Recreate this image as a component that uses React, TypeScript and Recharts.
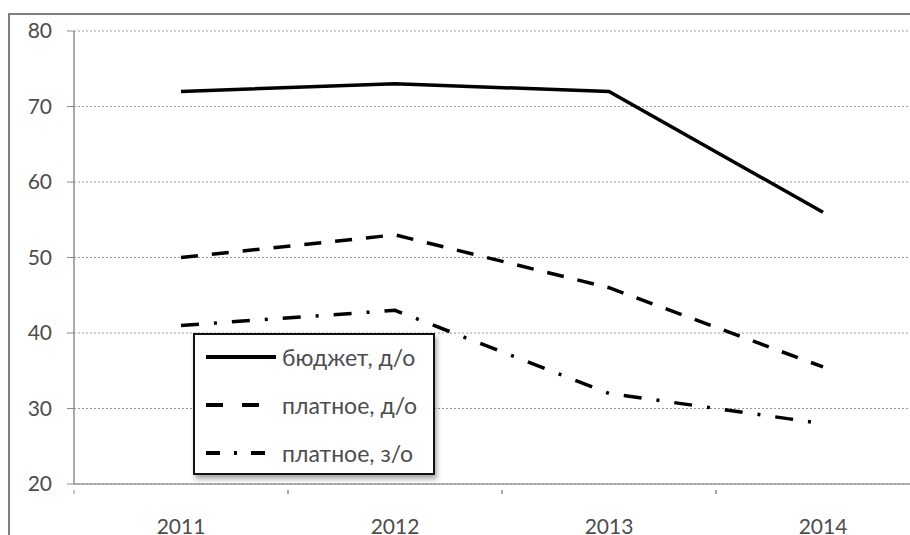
import { LineChart, Line, XAxis, YAxis, CartesianGrid, Legend } from 'recharts';

const years = ['2011', '2012', '2013', '2014'];
const budgetFullTime = [72, 73, 72, 56];
const paidFullTime = [50, 53, 46, 35.5];
const paidExtramural = [41, 43, 32, 28];
const yTicks = [20, 30, 40, 50, 60, 70, 80];

const seriesKeys = ['budget', 'paid', 'extramural'];
const seriesNames = ['бюджет, д/о', 'платное, д/о', 'платное, з/о'];
const seriesDash = ['', '17 14', '18 15 3 15'];

const data = years.map((year, i) => ({
  year,
  budget: budgetFullTime[i],
  paid: paidFullTime[i],
  extramural: paidExtramural[i],
}));

const FONT = 'Lato, "Open Sans", sans-serif';
const TEXT = '#4d4d4d';
const HALF_BAND = 107;

function YearTick(props: any) {
  const { x, y, payload } = props;
  return (
    <g>
      <line x1={x - HALF_BAND} x2={x - HALF_BAND} y1={y} y2={y + 4} stroke="#8c8c8c" />
      <line x1={x + HALF_BAND} x2={x + HALF_BAND} y1={y} y2={y + 4} stroke="#8c8c8c" />
      <text x={x} y={y + 44} textAnchor="middle" fill={TEXT} fontSize={21} fontFamily={FONT}>
        {payload.value}
      </text>
    </g>
  );
}

function LegendBox() {
  return (
    <div
      style={{
        width: 242,
        height: 142,
        boxSizing: 'border-box',
        border: '2.5px solid #111',
        background: '#fff',
        boxShadow: '2px 4px 5px rgba(0,0,0,0.35)',
        paddingTop: 0,
      }}
    >
      {seriesNames.map((name, i) => (
        <div
          key={name}
          style={{ display: 'flex', alignItems: 'center', height: 48, marginTop: i === 0 ? -2 : 0 }}
        >
          <svg width={86} height={10} style={{ flex: 'none' }}>
            <line
              x1={11}
              x2={81}
              y1={5}
              y2={5}
              stroke="#000"
              strokeWidth={4}
              strokeDasharray={seriesDash[i] ? (i === 1 ? '17 19' : '14 14 3 14') : undefined}
            />
          </svg>
          <span style={{ fontFamily: FONT, fontSize: 23, color: TEXT, marginLeft: 1, whiteSpace: 'nowrap' }}>
            {name}
          </span>
        </div>
      ))}
    </div>
  );
}

export default function App() {
  return (
    <div style={{ position: 'fixed', left: 0, top: 0, width: 910, height: 535, overflow: 'hidden', background: '#fff' }}>
      <div
        style={{
          marginTop: 13,
          marginLeft: 8,
          width: 960,
          height: 560,
          boxSizing: 'border-box',
          border: '2px solid #7f7f7f',
          background: '#fff',
        }}
      >
        <LineChart width={940} height={540} data={data} margin={{ top: 16, right: 20, bottom: 0, left: 0 }}>
          <CartesianGrid vertical={false} stroke="#9a9a9a" strokeDasharray="2 2" />
          <XAxis
            dataKey="year"
            padding={{ left: HALF_BAND, right: HALF_BAND }}
            axisLine={{ stroke: '#9a9a9a', strokeWidth: 1.5 }}
            tickLine={false}
            tickMargin={0}
            tick={<YearTick />}
            height={71}
            interval={0}
          />
          <YAxis
            domain={[20, 80]}
            ticks={yTicks}
            width={64}
            axisLine={{ stroke: '#8c8c8c', strokeWidth: 1.5 }}
            tickLine={{ stroke: '#8c8c8c' }}
            tickSize={7}
            tickMargin={15}
            tick={{ fill: TEXT, fontSize: 21, fontFamily: FONT }}
          />
          <Legend
            layout="vertical"
            align="center"
            verticalAlign="middle"
            content={() => <LegendBox />}
            wrapperStyle={{ left: 183, top: 318, width: 242, height: 142 }}
          />
          {seriesKeys.map((key, i) => (
            <Line
              key={key}
              dataKey={key}
              name={seriesNames[i]}
              stroke="#000"
              strokeWidth={3.5}
              strokeDasharray={seriesDash[i] || undefined}
              dot={false}
              activeDot={false}
              isAnimationActive={false}
            />
          ))}
        </LineChart>
      </div>
    </div>
  );
}
